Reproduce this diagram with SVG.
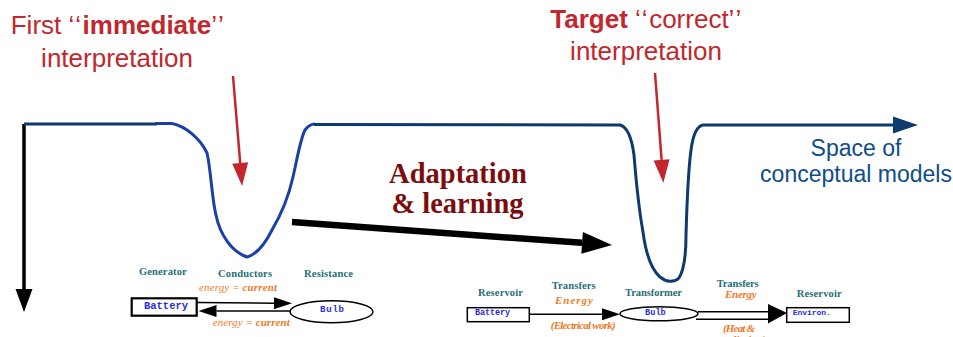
<svg xmlns="http://www.w3.org/2000/svg" width="953" height="337" viewBox="0 0 953 337">
<style>
.red{font-family:"Liberation Sans",Arial,sans-serif;fill:#c1272d;font-size:26px}
.q{letter-spacing:1.5px}
.blue{font-family:"Liberation Sans",Arial,sans-serif;fill:#0f4c89;font-size:23px}
.adapt{font-family:"Liberation Serif","Times New Roman",serif;font-weight:bold;fill:#7d0c0c;font-size:28.5px}
.lbl{font-family:"Liberation Serif","Times New Roman",serif;font-weight:bold;fill:#1f6f78;font-size:10.5px}
.nrg{font-family:"Liberation Serif","Times New Roman",serif;font-style:italic;fill:#f07a28;font-size:11px}
.mono{font-family:"Liberation Mono","Courier New",monospace;font-weight:bold;fill:#2a2ae6}
.box{fill:#fff;stroke:#000;stroke-width:1.5}
.conn{stroke:#000;stroke-width:1.5;fill:none}
.ah{fill:#000}
.navy{stroke:#0d3b6e;stroke-width:3;fill:none}
</style>
<defs>
<marker id="sm" markerUnits="userSpaceOnUse" markerWidth="18" markerHeight="12" refX="0" refY="6" orient="auto" overflow="visible">
<path d="M0,0 L18,6 L0,12 z" fill="#000"/>
</marker>
<marker id="redHead" markerUnits="userSpaceOnUse" markerWidth="23" markerHeight="16" refX="0" refY="8" orient="auto" overflow="visible">
<path d="M0,0 L23,8 L0,16 z" fill="#c1272d"/>
</marker>
<marker id="navyHead" markerUnits="userSpaceOnUse" markerWidth="25" markerHeight="17" refX="0" refY="8.5" orient="auto" overflow="visible">
<path d="M0,0 L25,8.5 L0,17 z" fill="#0d3b6e"/>
</marker>
<marker id="blkHead" markerUnits="userSpaceOnUse" markerWidth="23" markerHeight="17" refX="0" refY="8.5" orient="auto" overflow="visible">
<path d="M0,0 L23,8.5 L0,17 z" fill="#000"/>
</marker>
<marker id="bigHead" markerUnits="userSpaceOnUse" markerWidth="30" markerHeight="22" refX="0" refY="11" orient="auto" overflow="visible">
<path d="M0,0 L30,11 L0,22 z" fill="#000"/>
</marker>
</defs>

<g id="connectors">
<path d="M24,124 L24,289" stroke="#000" stroke-width="3.5" fill="none" marker-end="url(#blkHead)"/>
<path class="navy" d="M24,124 L157,124"/>
<path d="M155,123.5 L172,123.5 C185,126 200,138 207,153 C211,170 212,200 216,215 C220,235 232,252 247,257 C258,254 266,242 272,230 C282,213 289,195 293,177 C297,160 300,140 305,130 C308,126 311,124 315,124" stroke="#1a3fa6" stroke-width="3" fill="none"/>
<path class="navy" d="M314,124.5 L621,125"/>
<path class="navy" d="M620,125 C628,127 632,140 634,155 C636,180 640,215 643,232 C646,255 652,270 660,277 C666,282 674,283 679,278 C684,270 686,255 686,235 C687,200 689,165 691,150 C693,135 697,126 703,125 L893,125" marker-end="url(#navyHead)"/>
<path d="M233,76 L240.2,163" stroke="#c1272d" stroke-width="2.5" fill="none" marker-end="url(#redHead)"/>
<path d="M655,73 L661.6,159.8" stroke="#c1272d" stroke-width="2.5" fill="none" marker-end="url(#redHead)"/>
<path d="M292,222 L582.1,242.85" stroke="#000" stroke-width="6.5" fill="none" marker-end="url(#bigHead)"/>
<path class="conn" d="M197,302.5 L274,303.2" marker-end="url(#sm)"/>
<path class="conn" d="M290,311 L216.5,311" marker-end="url(#sm)"/>
<path class="conn" d="M529.3,314.3 L602,314.3" marker-end="url(#sm)"/>
<path class="conn" d="M698,311.7 L769,311.7"/>
<path class="conn" d="M696,319.3 L769,319.3"/>
<path class="ah" d="M768,304 L787,313 L768,323.5 z"/>
</g>

<g id="label-first">
<text class="red" x="118" y="34" text-anchor="middle">First <tspan class="q">‘‘</tspan><tspan font-weight="bold">immediate</tspan><tspan class="q">’’</tspan></text>
<text class="red" x="117" y="67" text-anchor="middle">interpretation</text>
</g>
<g id="label-target">
<text class="red" x="646.5" y="28" text-anchor="middle"><tspan font-weight="bold">Target</tspan> <tspan class="q">‘‘</tspan>correct<tspan class="q">’’</tspan></text>
<text class="red" x="646" y="60" text-anchor="middle">interpretation</text>
</g>
<g id="label-space">
<text class="blue" x="856" y="156" text-anchor="middle">Space of</text>
<text class="blue" x="856" y="182" text-anchor="middle">conceptual models</text>
</g>
<g id="label-adaptation">
<text class="adapt" x="458" y="183" text-anchor="middle">Adaptation</text>
<text class="adapt" x="457.5" y="213" text-anchor="middle">&amp; learning</text>
</g>

<g id="circuit-left">
<text class="lbl" x="139" y="275" textLength="47.7">Generator</text>
<text class="lbl" x="218" y="277" textLength="54">Conductors</text>
<text class="lbl" x="304" y="277" textLength="49">Resistance</text>
<text class="nrg" x="199" y="290.7" textLength="78">energy = <tspan font-weight="bold">current</tspan></text>
<text class="nrg" x="212.7" y="325.7" textLength="77">energy = <tspan font-weight="bold">current</tspan></text>
</g>
<g id="battery-left">
<rect x="131.7" y="298.3" width="65" height="17.4" fill="#fff" stroke="#000" stroke-width="2.2"/>
<text class="mono" x="144" y="309" font-size="10.5" textLength="44">Battery</text>
</g>
<g id="bulb-left">
<ellipse cx="331.5" cy="311.7" rx="41.5" ry="11" class="box"/>
<text class="mono" x="320" y="311.5" font-size="9" textLength="24">Bulb</text>
</g>

<g id="circuit-right">
<text class="lbl" x="478" y="296" textLength="45">Reservoir</text>
<text class="lbl" x="551.7" y="289" textLength="44">Transfers</text>
<text class="nrg" x="555" y="304.3" font-size="12.5" font-weight="bold" textLength="38">Energy</text>
<text class="nrg" x="550.7" y="329.3" font-size="9" font-weight="bold" textLength="65">(Electrical work)</text>
<text class="lbl" x="625" y="295.7" textLength="57">Transformer</text>
<text class="lbl" x="716.7" y="287.3" textLength="42">Transfers</text>
<text class="nrg" x="725" y="298.3" font-size="10.5" font-weight="bold" textLength="31.7">Energy</text>
<text class="nrg" x="723" y="331.7" font-size="9.5" font-weight="bold" textLength="32">(Heat &amp;</text>
<text class="nrg" x="721" y="343" font-size="9.5" font-weight="bold">radiation)</text>
<text class="lbl" x="796.7" y="297.3" textLength="45">Reservoir</text>
</g>
<g id="battery-right">
<rect x="467.3" y="307.7" width="62" height="14" class="box"/>
<text class="mono" x="475" y="314.5" font-size="8.5" textLength="35">Battery</text>
</g>
<g id="bulb-right">
<ellipse cx="659" cy="313.7" rx="39" ry="7" class="box"/>
<text class="mono" x="645" y="315" font-size="8.5" textLength="20.7">Bulb</text>
</g>
<g id="environ-right">
<rect x="786.7" y="307.7" width="62.6" height="14.6" class="box"/>
<text class="mono" x="792.7" y="315" font-size="8" textLength="38">Environ.</text>
</g>
</svg>
